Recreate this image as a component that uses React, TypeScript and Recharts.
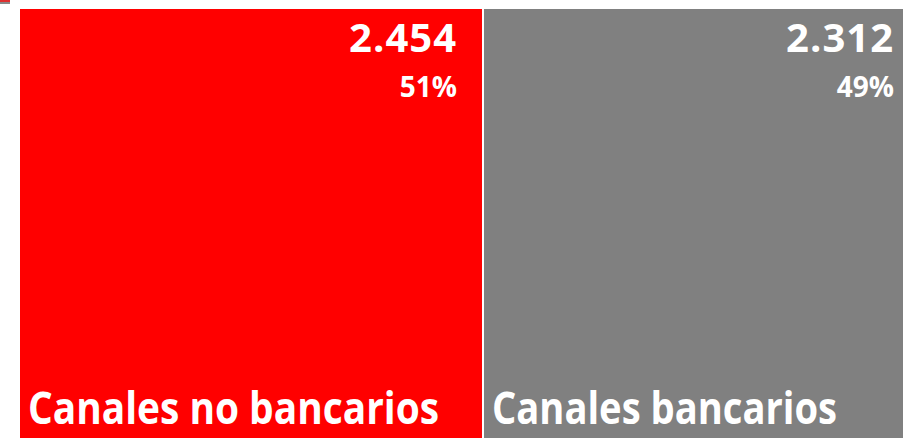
import { Treemap } from 'recharts';

const categories = ['Canales no bancarios', 'Canales bancarios'];
const values = [2454, 2312];
const colors = ['#FF0000', '#808080'];

const total = values.reduce((a, b) => a + b, 0);
const data = categories.map((name, i) => ({ name, value: values[i], fill: colors[i] }));

const fmt = (v: number) => v.toLocaleString('de-DE');

const Tile = (props: any) => {
  const { x, y, width, height, depth, name, value, fill } = props;
  if (depth !== 1) return null;
  const pct = Math.round((value / total) * 100);
  return (
    <g>
      <rect x={x} y={y} width={width} height={height} fill={fill} stroke="#fff" strokeWidth={2} />
      <text x={x + width - 26} y={y + 44} textAnchor="end" fill="#fff" fontFamily="'Open Sans', sans-serif" fontWeight={700} fontSize={40} letterSpacing={1}>
        {fmt(value)}
      </text>
      <text x={x + width - 26} y={y + 89} textAnchor="end" fill="#fff" fontFamily="'Open Sans', sans-serif" fontWeight={700} fontSize={28}>
        {pct}%
      </text>
      <text x={x + 9} y={y + 416} fill="#fff" fontFamily="'Open Sans', sans-serif" fontWeight={700} fontSize={45}
        textLength={name === 'Canales no bancarios' ? 411 : 345} lengthAdjust="spacingAndGlyphs">
        {name}
      </text>
    </g>
  );
};

export default function App() {
  return (
    <div>
      <div style={{ position: 'fixed', left: 0, top: 0, width: 10, height: 2, background: '#e03030' }} />
      <div style={{ position: 'fixed', left: 0, top: 2, width: 10, height: 2, background: '#888' }} />
      <div style={{ position: 'fixed', left: 19, top: 8, width: 884, height: 431, overflow: 'hidden' }}>
        <Treemap
          width={901}
          height={431}
          data={data}
          dataKey="value"
          nameKey="name"
          isAnimationActive={false}
          content={<Tile />}
        />
      </div>
    </div>
  );
}
